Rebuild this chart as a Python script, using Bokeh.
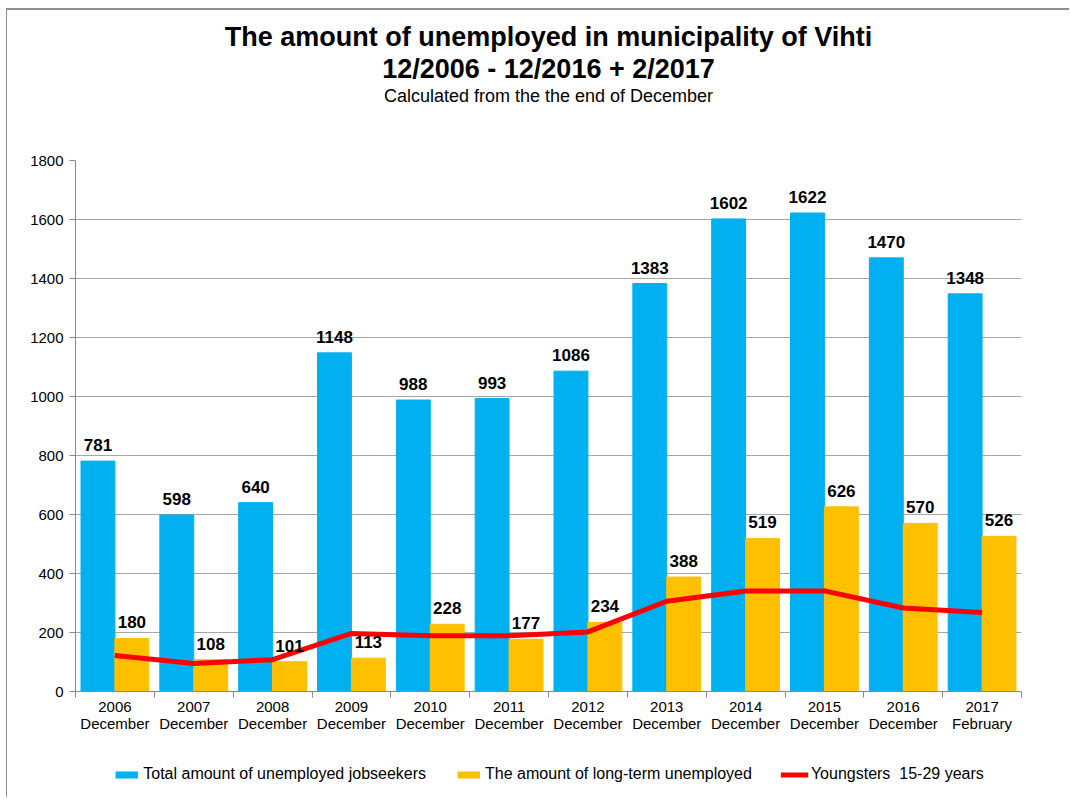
from bokeh.plotting import figure
from bokeh.models import (ColumnDataSource, LabelSet, Title, Legend, LegendItem,
                          FixedTicker, Range1d)
from bokeh.layouts import column
from bokeh.core.properties import value
from bokeh.embed import file_html
from bokeh.resources import INLINE

categories = ["2006\nDecember", "2007\nDecember", "2008\nDecember", "2009\nDecember",
              "2010\nDecember", "2011\nDecember", "2012\nDecember", "2013\nDecember",
              "2014\nDecember", "2015\nDecember", "2016\nDecember", "2017\nFebruary"]
total_unemployed = [781, 598, 640, 1148, 988, 993, 1086, 1383, 1602, 1622, 1470, 1348]
long_term = [180, 108, 101, 113, 228, 177, 234, 388, 519, 626, 570, 526]
youngsters = [122, 95, 108, 197, 189, 189, 202, 306, 341, 341, 283, 268]
y_ticks = [0, 200, 400, 600, 800, 1000, 1200, 1400, 1600, 1800]
series_names = ["Total amount of unemployed jobseekers",
                "The amount of long-term unemployed",
                "Youngsters  15-29 years"]

FONT = "Liberation Sans"
BLUE = "#00B0F0"
YELLOW = "#FFC000"
RED = "#FF0000"

n = len(categories)
centers = [i + 0.5 for i in range(n)]
bw = 0.43
src = ColumnDataSource(dict(
    xb=[c - bw / 2 for c in centers],
    xy=[c + bw / 2 for c in centers],
    xc=centers,
    total=total_unemployed,
    longt=long_term,
    young=youngsters,
    total_s=[str(v) for v in total_unemployed],
    long_s=[str(v) for v in long_term],
))

p = figure(frame_width=946, frame_height=531, output_backend="svg", toolbar_location=None,
           x_range=Range1d(0, n), y_range=Range1d(0, 1800),
           min_border_left=68, min_border_right=48, min_border_top=0,
           min_border_bottom=60)
p.outline_line_color = None
p.background_fill_color = "white"
p.border_fill_color = "white"

r_blue = p.vbar(x="xb", top="total", width=bw, source=src, color=BLUE)
r_yel = p.vbar(x="xy", top="longt", width=bw, source=src, color=YELLOW)
r_red = p.line(x="xc", y="young", source=src, line_color=RED, line_width=5)

for xf, yf, tf in [("xb", "total", "total_s"), ("xy", "longt", "long_s")]:
    p.add_layout(LabelSet(x=xf, y=yf, text=tf, source=src,
                          text_align="center", text_baseline="bottom", y_offset=10,
                          text_font=value(FONT), text_font_style="bold",
                          text_font_size="17px", text_color="black"))

# axes
p.xgrid.grid_line_color = None
p.ygrid.grid_line_color = "#A6A6A6"
p.ygrid.grid_line_width = 1
p.yaxis.ticker = FixedTicker(ticks=y_ticks)
p.yaxis.axis_line_color = "#8a8a8a"
p.yaxis.major_tick_line_color = "#8a8a8a"
p.yaxis.major_tick_out = 6
p.yaxis.major_tick_in = 0
p.yaxis.minor_tick_line_color = None
p.yaxis.major_label_text_font = FONT
p.yaxis.major_label_text_font_size = "15px"
p.yaxis.major_label_text_color = "black"
p.yaxis.major_label_standoff = 6

p.xaxis.ticker = FixedTicker(ticks=centers, minor_ticks=list(range(n + 1)))
p.xaxis.major_label_overrides = {c: lab for c, lab in zip(centers, categories)}
p.xaxis.axis_line_color = "#8a8a8a"
p.xaxis.major_tick_line_color = None
p.xaxis.major_tick_out = 0
p.xaxis.major_tick_in = 0
p.xaxis.minor_tick_line_color = "#8a8a8a"
p.xaxis.minor_tick_out = 6
p.xaxis.minor_tick_in = 0
p.xaxis.major_label_text_font = FONT
p.xaxis.major_label_text_font_size = "15px"
p.xaxis.major_label_text_line_height = 1.0
p.xaxis.major_label_text_color = "black"
p.xaxis.major_label_standoff = 0

# titles: first added sits closest to the plot
p.add_layout(Title(text=" ", text_font_size="48px", standoff=0), "above")
p.add_layout(Title(text="Calculated from the the end of December", align="center",
                   text_font=FONT, text_font_size="18px", text_font_style="normal",
                   text_color="black", standoff=0), "above")
p.add_layout(Title(text="12/2006 - 12/2016 + 2/2017", align="center",
                   text_font=FONT, text_font_size="27px", text_font_style="bold",
                   text_color="black", standoff=0), "above")
p.add_layout(Title(text="The amount of unemployed in municipality of Vihti", align="center",
                   text_font=FONT, text_font_size="27px", text_font_style="bold",
                   text_color="black", standoff=0), "above")
p.add_layout(Title(text=" ", text_font_size="7px", standoff=0), "above")

# legend strip (separate small figure below the chart); its proxy glyphs lie
# outside the strip's visible range so only the legend swatches show
pl = figure(frame_width=946, frame_height=46, output_backend="svg", toolbar_location=None,
            x_range=Range1d(0, 1), y_range=Range1d(0, 1),
            min_border_left=68, min_border_right=48, min_border_top=0,
            min_border_bottom=0, x_axis_location=None, y_axis_location=None)
pl.outline_line_color = None
pl.grid.grid_line_color = None
lg_blue = pl.vbar(x=[-5], top=[-5], bottom=[-6], width=0.1, fill_color=BLUE,
                  line_color=None)
lg_yel = pl.vbar(x=[-5], top=[-5], bottom=[-6], width=0.1, fill_color=YELLOW,
                 line_color=None)
lg_red = pl.line(x=[-6, -5], y=[-5, -5], line_color=RED, line_width=5)
legend = Legend(items=[
    LegendItem(label=series_names[0], renderers=[lg_blue]),
    LegendItem(label=series_names[1], renderers=[lg_yel]),
    LegendItem(label=series_names[2], renderers=[lg_red]),
], orientation="horizontal", location="center", border_line_color=None,
    background_fill_alpha=0, padding=0, margin=0, spacing=28,
    glyph_width=28, glyph_height=9, label_standoff=3,
    label_text_font=FONT, label_text_font_size="16px", label_text_color="black",
    label_height=16)
pl.add_layout(legend, "center")

layout = column(p, pl, spacing=0)
layout.styles = {"border-top": "2px solid #8f8f8f", "border-left": "1px solid #8f8f8f",
                 "margin-left": "6px", "margin-top": "8px"}

open("out.html", "w").write(file_html(layout, INLINE))
